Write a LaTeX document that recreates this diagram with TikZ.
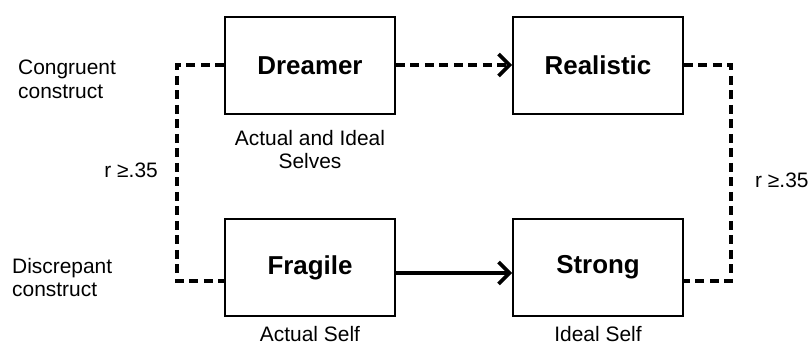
\documentclass[tikz,border=0pt]{standalone}
\usepackage{fontspec}
\setmainfont{Liberation Sans}
\usetikzlibrary{arrows.meta}
\begin{document}
\begin{tikzpicture}[x=1bp,y=-1bp,
  box/.style={draw=black,line width=1.6bp,minimum width=170bp,minimum height=97bp,inner sep=0pt,
    font=\fontsize{26}{28}\selectfont\bfseries},
  lbl/.style={inner sep=0pt,font=\fontsize{21}{24}\selectfont},
  dashline/.style={line width=3.3bp,dash pattern=on 9bp off 5.5bp},
  chev/.style={-{Straight Barb[length=11bp,width=22bp,line width=3.8bp]}}
]
\useasboundingbox (0,0) rectangle (811,347);
\node[box] (dreamer) at (310,65.5) {Dreamer};
\node[box] (realistic) at (598,65.5) {Realistic};
\node[box] (fragile) at (310,267.5) {Fragile};
\node[box] (strong) at (598,267.5) {Strong};

\coordinate (lt) at (177,65);
\coordinate (lb) at (177,281);
\coordinate (rt) at (731,65);
\coordinate (rb) at (731,281);

\draw[dashline] (dreamer.west |- lt) -- (lt) -- (lb) -- (fragile.west |- lb);
\draw[dashline] (realistic.east |- rt) -- (rt) -- (rb) -- (strong.east |- rb);
\draw[dashline,chev] (dreamer.east |- lt) -- (realistic.west |- lt);
\draw[line width=4.5bp,chev] ([yshift=-5.5bp]fragile.east) -- ([yshift=-5.5bp]strong.west);

\node[lbl,anchor=west,align=left] (cong) at (18,79) {Congruent\\construct};
\node[lbl,anchor=west,align=left] (disc) at (12,277.5) {Discrepant\\construct};
\node[lbl,anchor=east] (rl) at (158,170) {r ≥.35};
\node[lbl,anchor=west] (rr) at (755,180) {r ≥.35};
\node[lbl,align=center] (ais) at (310,149.5) {Actual and Ideal\\Selves};
\node[lbl] (as) at (310,334.5) {Actual Self};
\node[lbl] (is) at (598,334.5) {Ideal Self};
\end{tikzpicture}
\end{document}
